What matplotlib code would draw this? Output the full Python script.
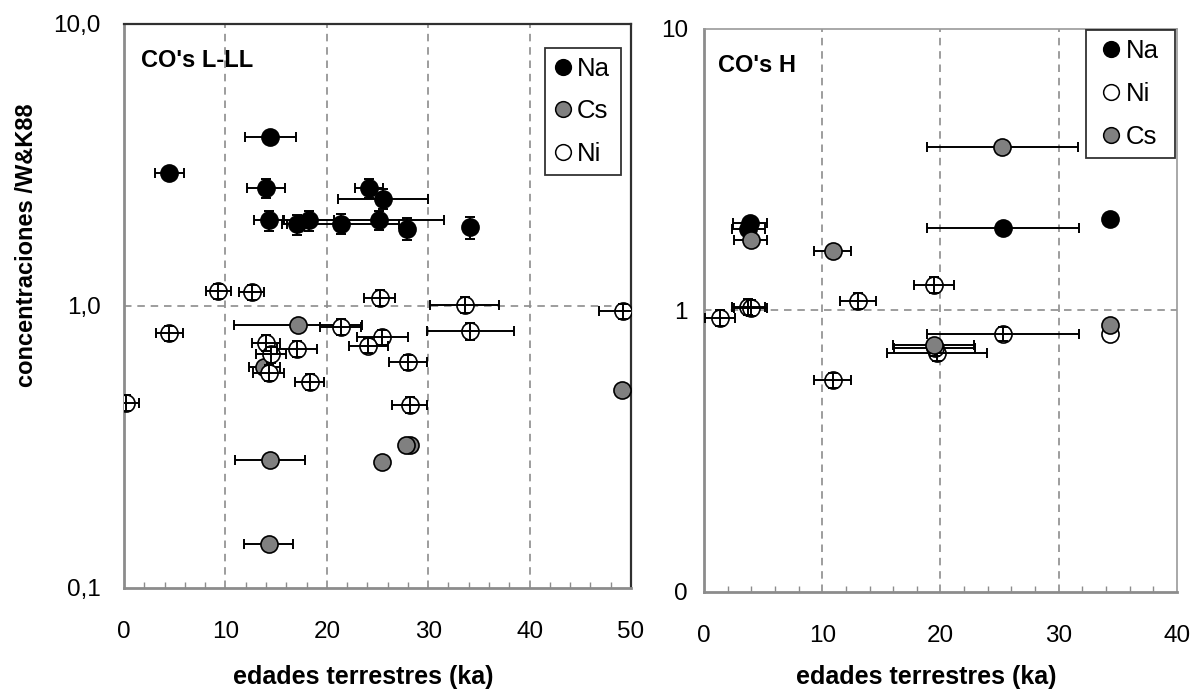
import numpy as np
import matplotlib
matplotlib.use("Agg")
import matplotlib.pyplot as plt
from matplotlib.lines import Line2D
from matplotlib.ticker import FixedLocator, MultipleLocator, NullFormatter

plt.rcParams['font.family'] = ['Liberation Sans', 'DejaVu Sans']

nan = np.nan

# ---- CO's L-LL ----
na_lll_age = [4.47, 14.44, 14.0, 24.15, 25.55, 14.27, 17.08, 18.23, 21.35, 25.13, 27.93, 34.15]
na_lll_conc = [2.95, 3.98, 2.62, 2.62, 2.40, 2.01, 1.95, 2.01, 1.96, 2.02, 1.88, 1.90]
na_lll_age_err = [1.4, 2.5, 1.85, 1.4, 4.45, 1.45, 1.0, 2.5, 5.8, 6.4, nan, nan]
na_lll_conc_err = [nan, nan, 0.2, 0.2, 0.2, 0.16, 0.16, 0.16, 0.16, 0.16, 0.17, 0.17]

cs_lll_age = [17.16, 13.85, 28.16, 27.8, 25.46, 14.4, 14.25, 49.15]
cs_lll_conc = [0.855, 0.61, 0.321, 0.321, 0.28, 0.285, 0.143, 0.503]
cs_lll_age_err = [6.35, 1.5, nan, nan, nan, 3.45, 2.4, nan]

ni_lll_age = [9.31, 12.6, 4.47, 0.2, 14.0, 14.5, 17.08, 14.25, 18.3, 21.35,
              25.2, 25.47, 24.1, 28.0, 28.16, 33.6, 34.15, 49.2]
ni_lll_conc = [1.13, 1.12, 0.80, 0.453, 0.74, 0.673, 0.705, 0.58, 0.537, 0.844,
               1.07, 0.775, 0.724, 0.632, 0.447, 1.01, 0.814, 0.958]
ni_lll_age_err = [1.25, 1.25, 1.3, 1.3, 1.4, 1.5, 2.0, 1.55, 1.45, 2.0,
                  1.55, 2.5, 1.9, 1.9, 1.7, 3.4, 4.3, 2.4]
ni_lll_conc_err = [0.07, 0.07, 0.05, 0.03, 0.05, 0.045, 0.045, 0.04, 0.035, 0.055,
                   0.07, 0.05, 0.045, 0.04, 0.03, 0.065, 0.055, 0.06]

# ---- CO's H ----
na_h_age = [3.89, 3.75, 25.3, 34.3]
na_h_conc = [2.05, 1.94, 1.963, 2.115]
na_h_age_err = [1.4, 1.4, 6.4, nan]

ni_h_age = [19.45, 25.3, 34.3, 19.7, 19.5, 13.03, 3.75, 3.95, 1.35, 10.87]
ni_h_conc = [1.23, 0.827, 0.822, 0.708, 0.735, 1.08, 1.03, 1.02, 0.94, 0.566]
ni_h_age_err = [1.7, 6.4, nan, 4.2, 3.45, 1.55, 1.4, 1.4, 1.3, 1.6]
ni_h_conc_err = [0.08, 0.05, nan, 0.045, 0.045, 0.07, 0.065, 0.065, 0.06, 0.035]

cs_h_age = [25.23, 3.95, 10.87, 34.3, 19.42]
cs_h_conc = [3.80, 1.786, 1.63, 0.887, 0.751]
cs_h_age_err = [6.4, 1.4, 1.6, nan, 3.45]

y_ticks = [0.1, 1, 10]
y_labels_lll = ['0,1', '1,0', '10,0']
y_labels_h = ['0', '1', '10']

NA_COLOR = 'black'
CS_COLOR = '#808080'
NI_COLOR = 'white'
GRID_COLOR = '#8c8c8c'
AXIS_COLOR = '#8c8c8c'
MS = 12.3
ERR_KW = dict(fmt='none', ecolor='black', elinewidth=1.4, capsize=3.8, capthick=1.4)
TICK_FS = 17.5
LABEL_FS = 18


def draw_series(ax, x, y, xerr, yerr, face, errs_on_top, z):
    x = np.asarray(x, float)
    y = np.asarray(y, float)
    xe = np.asarray(xerr, float)
    ye = None if yerr is None else np.asarray(yerr, float)
    ez = z + 1 if errs_on_top else z
    mz = z if errs_on_top else z + 1
    ax.errorbar(x, y, xerr=xe, yerr=ye, zorder=ez, clip_on=True, **ERR_KW)
    ax.plot(x, y, 'o', ms=MS, mfc=face, mec='black', mew=1.2, ls='none', zorder=mz)


def style_axes(ax, xmax, vgrid, ylabels, ypad, dark_frame):
    ax.set_yscale('log')
    ax.set_ylim(0.1, 10)
    ax.set_xlim(0, xmax)
    ax.yaxis.set_major_locator(FixedLocator(y_ticks))
    ax.yaxis.set_minor_locator(FixedLocator([]))
    ax.set_yticklabels(ylabels)
    ax.yaxis.set_minor_formatter(NullFormatter())
    ax.xaxis.set_major_locator(MultipleLocator(10))
    ax.xaxis.set_minor_locator(MultipleLocator(2))
    ax.tick_params(axis='x', which='major', length=0, pad=24, labelsize=TICK_FS)
    ax.tick_params(axis='x', which='minor', direction='in', length=4, width=1,
                   color=AXIS_COLOR)
    ax.tick_params(axis='y', which='both', length=0, pad=ypad, labelsize=TICK_FS)
    for v in vgrid:
        ax.axvline(v, color=GRID_COLOR, lw=1.2, ls=(0, (4.5, 3.5)), zorder=1)
    ax.axhline(1, color=GRID_COLOR, lw=1.2, ls=(0, (4.5, 3.5)), zorder=1)
    for side in ('left', 'bottom'):
        ax.spines[side].set_color(AXIS_COLOR)
        ax.spines[side].set_linewidth(2)
    for side in ('top', 'right'):
        ax.spines[side].set_color('#303030' if dark_frame else '#9a9a9a')
        ax.spines[side].set_linewidth(1.6 if dark_frame else 1.2)


def make_legend(ax, entries, anchor, handlelength, handletextpad):
    handles = [Line2D([], [], marker='o', ls='none', ms=11.3, mfc=c, mec='black',
                      mew=1.1) for c, _ in entries]
    labels = [t for _, t in entries]
    leg = ax.legend(handles, labels, loc='upper left', bbox_to_anchor=anchor,
                    bbox_transform=ax.figure.transFigure, mode='expand',
                    fontsize=18.5, frameon=True, fancybox=False, edgecolor='black',
                    handlelength=handlelength, handletextpad=handletextpad,
                    labelspacing=0.73, borderpad=0.35, borderaxespad=0)
    leg.get_frame().set_linewidth(1.3)
    leg.set_zorder(10)
    return leg


W, H = 1196, 691
fig = plt.figure(figsize=(W / 100, H / 100), dpi=100)
ax1 = fig.add_axes([0.1037, 0.1491, 0.4239, 0.8162])
ax2 = fig.add_axes([0.5886, 0.1433, 0.3955, 0.8148])

# left panel
style_axes(ax1, 50, [10, 20, 30, 40], y_labels_lll, 17, True)
draw_series(ax1, na_lll_age, na_lll_conc, na_lll_age_err, na_lll_conc_err, NA_COLOR, False, 3)
draw_series(ax1, cs_lll_age, cs_lll_conc, cs_lll_age_err, None, CS_COLOR, False, 5)
draw_series(ax1, ni_lll_age, ni_lll_conc, ni_lll_age_err, ni_lll_conc_err, NI_COLOR, True, 7)
ax1.text(0.033, 0.924, "CO's L-LL", transform=ax1.transAxes, fontsize=17,
         fontweight='bold', va='baseline', ha='left', zorder=12)
make_legend(ax1, [(NA_COLOR, 'Na'), (CS_COLOR, 'Cs'), (NI_COLOR, 'Ni')],
            (544.5 / W, 1 - 47.7 / H, 76.5 / W, 0), 0.75, 0.15)
ax1.set_xlabel('edades terrestres (ka)', fontsize=LABEL_FS, fontweight='bold')
ax1.xaxis.set_label_coords((363 - 124) / 507, (588 - 684) / 564)
ax1.xaxis.label.set_va('baseline')
ax1.set_ylabel('concentraciones /W&K88', fontsize=17, fontweight='bold')
ax1.yaxis.set_label_coords((26 - 124) / 507, (588 - 245) / 564)
ax1.yaxis.label.set_va('center')

# right panel
style_axes(ax2, 40, [10, 20, 30], y_labels_h, 11.5, False)
draw_series(ax2, na_h_age, na_h_conc, na_h_age_err, None, NA_COLOR, False, 3)
draw_series(ax2, ni_h_age, ni_h_conc, ni_h_age_err, ni_h_conc_err, NI_COLOR, True, 5)
draw_series(ax2, cs_h_age, cs_h_conc, cs_h_age_err, None, CS_COLOR, False, 7)
ax2.text(0.030, 0.923, "CO's H", transform=ax2.transAxes, fontsize=17,
         fontweight='bold', va='baseline', ha='left', zorder=12)
make_legend(ax2, [(NA_COLOR, 'Na'), (NI_COLOR, 'Ni'), (CS_COLOR, 'Cs')],
            (1085.7 / W, 1 - 30 / H, 89.3 / W, 0), 1.27, -0.05)
ax2.set_xlabel('edades terrestres (ka)', fontsize=LABEL_FS, fontweight='bold')
ax2.xaxis.set_label_coords((926 - 704) / 473, (592 - 684) / 563)
ax2.xaxis.label.set_va('baseline')

fig.savefig('out.png', dpi=100)
